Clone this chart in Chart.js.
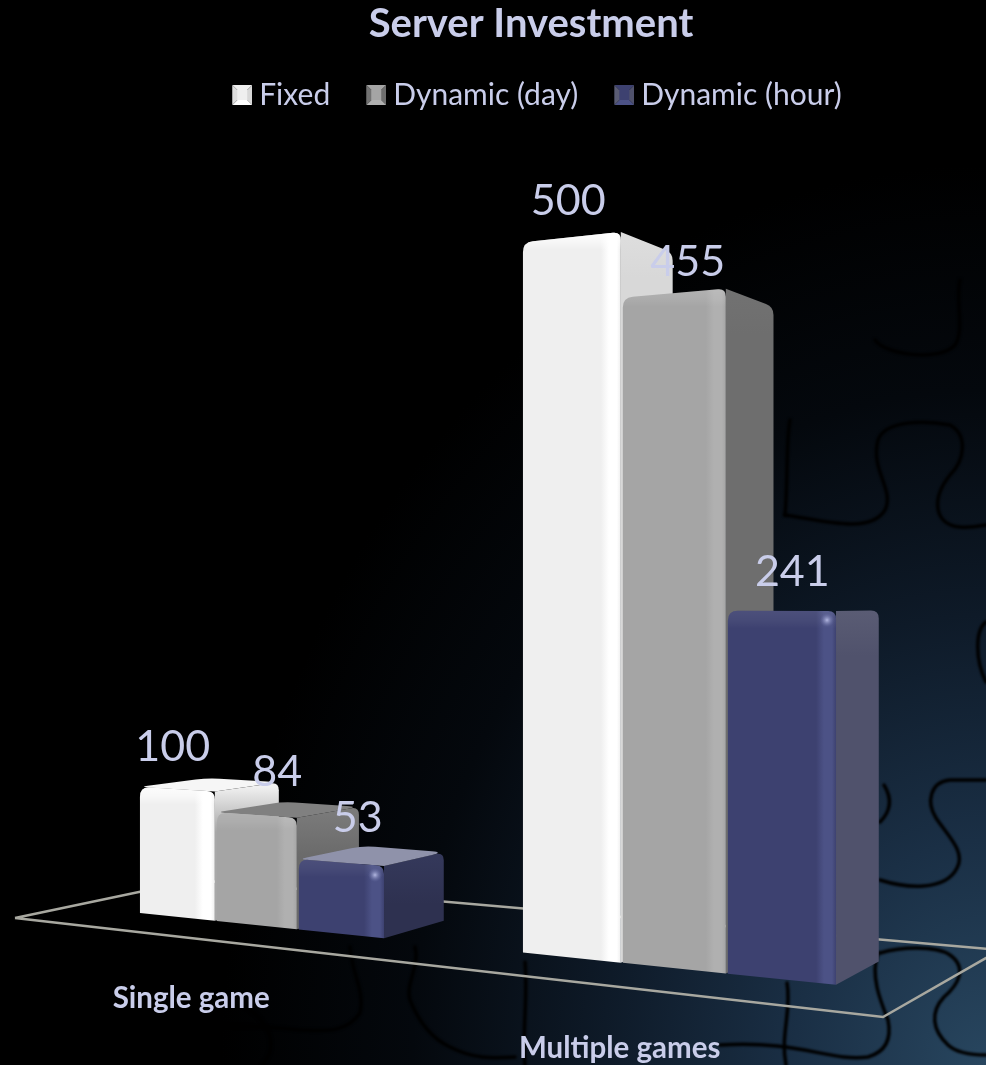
<!DOCTYPE html>
<html>
<head>
<meta charset="utf-8">
<title>Server Investment</title>
<style>
  html, body { margin: 0; padding: 0; background: #000; overflow: hidden; }
  canvas { display: block; }
</style>
<script src="https://cdn.jsdelivr.net/npm/chart.js@4"></script>
</head>
<body>
<canvas id="chart" width="986" height="1065"></canvas>
<script>
const categories = ['Single game', 'Multiple games'];
const seriesNames = ['Fixed', 'Dynamic (day)', 'Dynamic (hour)'];
const fixedValues = [100, 500];
const dayValues = [84, 455];
const hourValues = [53, 241];

const TEXT = '#c9cdea';
const FONT = 'Lato, "Open Sans", sans-serif';

// face colours: side is [top, lower] for the near and the far group
const faces = [
  { front: '#efefef', ridge: '#ffffff', side: [['#f0f0f0', '#a8a8a8'], ['#dedede', '#d8d8d8']], lid: '#f6f6f6', bevel: 0.85 },
  { front: '#a5a5a5', ridge: '#b0b0b0', side: [['#7a7a7a', '#6a6a6a'], ['#727272', '#6e6e6e']], lid: '#808080', bevel: 0.14 },
  { front: '#3d4170', ridge: '#4c5286', side: [['#34385a', '#2e3150'], ['#5a5c74', '#50526c']], lid: '#8f92aa', bevel: 0.08 },
];

// two point view of the floor: the library's pixels are bent onto it
const HORIZON = 600;
const VP_X = 1540;
const CENTER_X = 531;
const HEIGHT_K = 0.00403;
const screenX = (u) => { const t = u - CENTER_X; return 452.1 + t + 0.0002946 * t * t; };
const floorY = (x) => 913 + 0.103 * (x - 139);
const depthAt = (x) => 0.044 + 0.00002 * x;
const lift = (x, v) => { const f = floorY(x); return f - v * HEIGHT_K * (f - HORIZON); };
const back = (p, t) => [p[0] + (VP_X - p[0]) * t, p[1] + (HORIZON - p[1]) * t];

// floor outline, hidden parts are covered by the bars
const floorLine = [[15, 918], [883, 1017], [1000, 950], [196, 880], [15, 918]];

// value label offset from the middle of the bar top
const labelShift = [
  [[-4, -42], [-3, -36]],
  [[21, -43], [14, -31]],
  [[17, -44], [11, -39]],
];
const tickShift = [[-65, 73], [-54, 80]];

// puzzle pieces printed on the slide background
const puzzlePaths = [
  'M986 780 L950 780 C930 782 926 802 936 818 C948 836 966 852 957 868 C945 892 905 888 880 880',
  'M880 822 C892 810 892 798 884 785',
  'M880 953 C900 947 935 945 950 955 C968 968 958 985 944 997 C930 1012 932 1030 948 1045 C958 1054 975 1055 986 1055',
  'M878 953 C870 975 880 1000 888 1020 C892 1040 885 1052 868 1057 C830 1062 800 1040 720 1045',
  'M986 622 C975 630 975 660 986 682',
  'M787 983 C792 1010 780 1035 786 1065',
  'M785 515 C820 520 870 535 885 510 C895 490 870 470 878 440 C885 420 925 420 950 425 C968 435 965 460 950 475 C930 500 935 525 960 527 C970 528 980 526 986 525',
  'M785 515 C788 480 786 440 790 420',
  'M875 340 C885 355 940 362 955 345 C965 330 955 300 960 280',
  'M350 947 C352 975 365 990 360 1013 C345 1035 320 1030 300 1030 C250 1024 190 1026 160 1030 C150 1040 152 1050 150 1065',
  'M415 947 C420 965 405 985 410 1000 C420 1025 435 1040 450 1047 C475 1060 495 1058 515 1057',
  'M525 962 C528 1000 522 1030 525 1065',
  'M245 590 C290 575 325 620 300 665 C285 690 265 740 272 775',
  'M235 1000 C270 1020 280 1045 262 1065',
];

function roundedPoly(ctx, pts, radii) {
  const n = pts.length;
  ctx.beginPath();
  pts.forEach((p, i) => {
    const prev = pts[(i + n - 1) % n];
    const next = pts[(i + 1) % n];
    const a = Math.hypot(prev[0] - p[0], prev[1] - p[1]);
    const b = Math.hypot(next[0] - p[0], next[1] - p[1]);
    const r = Math.min(radii[i], a / 2, b / 2);
    const p1 = [p[0] + (prev[0] - p[0]) * r / a, p[1] + (prev[1] - p[1]) * r / a];
    const p2 = [p[0] + (next[0] - p[0]) * r / b, p[1] + (next[1] - p[1]) * r / b];
    if (i === 0) ctx.moveTo(p1[0], p1[1]);
    else ctx.lineTo(p1[0], p1[1]);
    ctx.quadraticCurveTo(p[0], p[1], p2[0], p2[1]);
  });
  ctx.closePath();
}

function drawBox(ctx, x0, x1, value, face, group, shiny) {
  const f0 = [x0, floorY(x0)];
  const f1 = [x1, floorY(x1)];
  const t0 = [x0, lift(x0, value)];
  const t1 = [x1, lift(x1, value)];
  const d = depthAt(x1);
  const bf = back(f1, d);
  const bt = back(t1, d);
  const bl = back(t0, d);
  const top = Math.min(t0[1], t1[1]);
  const w = x1 - x0;

  // side
  let g = ctx.createLinearGradient(0, top, 0, top + 45);
  g.addColorStop(0, face.side[group][0]);
  g.addColorStop(1, face.side[group][1]);
  ctx.fillStyle = g;
  roundedPoly(ctx, [t1, bt, bf, f1], [0, 8, 0, 0]);
  ctx.fill();

  // lid, only seen when the top is well under the horizon
  if (t1[1] > HORIZON + 40) {
    ctx.fillStyle = face.lid;
    roundedPoly(ctx, [t0, bl, bt, t1], [8, 12, 12, 0]);
    ctx.fill();
  }

  // front
  g = ctx.createLinearGradient(x0, 0, x1, 0);
  g.addColorStop(0, face.front);
  g.addColorStop(1 - 20 / w, face.front);
  g.addColorStop(1 - 12 / w, face.ridge);
  g.addColorStop(1 - 4 / w, face.ridge);
  g.addColorStop(1, face.front);
  ctx.fillStyle = g;
  roundedPoly(ctx, [t0, t1, f1, f0], [10, 8, 0, 0]);
  ctx.fill();

  // bevel along the top of the front face
  ctx.save();
  roundedPoly(ctx, [t0, t1, f1, f0], [10, 8, 0, 0]);
  ctx.clip();
  g = ctx.createLinearGradient(0, top, 0, top + 18);
  g.addColorStop(0, `rgba(255,255,255,${face.bevel})`);
  g.addColorStop(0.55, `rgba(255,255,255,${face.bevel * 0.6})`);
  g.addColorStop(1, 'rgba(255,255,255,0)');
  ctx.fillStyle = g;
  ctx.fillRect(x0, top, w, 18);
  ctx.restore();

  if (shiny) {
    const sx = x1 - 9;
    const sy = t1[1] + 9;
    g = ctx.createRadialGradient(sx, sy, 0, sx, sy, 7);
    g.addColorStop(0, 'rgba(190,195,235,0.9)');
    g.addColorStop(1, 'rgba(110,116,170,0)');
    ctx.fillStyle = g;
    ctx.fillRect(sx - 7, sy - 7, 14, 14);
  }
}

const view3d = {
  id: 'view3d',
  beforeDraw(chart) {
    const { ctx, width, height } = chart;
    // glow in the lower right corner, stretched up the right edge
    ctx.save();
    ctx.translate(width, height);
    ctx.scale(0.85, 1);
    const g = ctx.createRadialGradient(0, 0, 0, 0, 0, 900);
    g.addColorStop(0, '#28465f');
    g.addColorStop(0.25, '#1a2f45');
    g.addColorStop(0.5, '#0e1a28');
    g.addColorStop(0.75, '#04080d');
    g.addColorStop(1, '#000000');
    ctx.fillStyle = g;
    ctx.fillRect(-width / 0.85, -height, width / 0.85, height);
    ctx.restore();

    ctx.save();
    ctx.strokeStyle = '#000000';
    ctx.lineWidth = 3.5;
    ctx.lineCap = 'round';
    ctx.filter = 'blur(1px)';
    puzzlePaths.forEach((d) => ctx.stroke(new Path2D(d)));
    ctx.restore();
  },
  afterLayout(chart) {
    chart.legend.left += 6;
    chart.legend.right += 6;
  },
  beforeDatasetsDraw(chart) {
    const { ctx } = chart;
    const yScale = chart.scales.y;

    ctx.save();
    ctx.strokeStyle = '#a8a8a0';
    ctx.lineWidth = 2.5;
    ctx.beginPath();
    floorLine.forEach((p, i) => (i ? ctx.lineTo(p[0], p[1]) : ctx.moveTo(p[0], p[1])));
    ctx.stroke();

    categories.forEach((name, c) => {
      chart.data.datasets.forEach((ds, s) => {
        const bar = chart.getDatasetMeta(s).data[c];
        const x0 = screenX(bar.x - bar.width / 2);
        const x1 = screenX(bar.x + bar.width / 2);
        drawBox(ctx, x0 + 1, x1 - 1, yScale.getValueForPixel(bar.y), faces[s], c, s === 2);
      });
    });
    ctx.restore();
  },
  beforeDatasetDraw() {
    return false;
  },
  afterDatasetsDraw(chart) {
    const { ctx } = chart;
    const yScale = chart.scales.y;
    const xScale = chart.scales.x;
    ctx.save();
    ctx.fillStyle = TEXT;
    ctx.textAlign = 'center';
    ctx.textBaseline = 'middle';

    ctx.font = '43px ' + FONT;
    chart.data.datasets.forEach((ds, s) => {
      ds.data.forEach((v, c) => {
        const bar = chart.getDatasetMeta(s).data[c];
        const x = screenX(bar.x);
        const y = lift(x, yScale.getValueForPixel(bar.y));
        ctx.fillText(String(v), x + labelShift[s][c][0], y + labelShift[s][c][1]);
      });
    });

    ctx.font = 'bold 29.5px ' + FONT;
    categories.forEach((name, c) => {
      const x = screenX(xScale.getPixelForTick(c));
      ctx.fillText(name, x + tickShift[c][0], floorY(x) + tickShift[c][1]);
    });
    ctx.restore();
  },
};

// small bevelled legend square; blank strip on the left keeps the text close to it
function swatch(face) {
  const c = document.createElement('canvas');
  c.width = 28;
  c.height = 20;
  const x = c.getContext('2d');
  const tri = (color, a, b) => {
    x.fillStyle = color;
    x.beginPath();
    x.moveTo(a[0], a[1]);
    x.lineTo(b[0], b[1]);
    x.lineTo(18, 10);
    x.fill();
  };
  tri(face.front, [8, 0], [28, 0]);
  tri(face.side[1][1], [28, 0], [28, 20]);
  tri(face.ridge, [8, 20], [28, 20]);
  tri(face.side[1][0], [8, 0], [8, 20]);
  x.fillStyle = face.front;
  x.fillRect(13, 5, 10, 10);
  return c;
}

new Chart(document.getElementById('chart'), {
  type: 'bar',
  plugins: [view3d],
  data: {
    labels: categories,
    datasets: [
      { label: seriesNames[0], data: fixedValues, backgroundColor: faces[0].front },
      { label: seriesNames[1], data: dayValues, backgroundColor: faces[1].front },
      { label: seriesNames[2], data: hourValues, backgroundColor: faces[2].front },
    ],
  },
  options: {
    responsive: false,
    animation: false,
    layout: { padding: { left: 113.5, right: 37.5, top: 0, bottom: 40 } },
    datasets: { bar: { categoryPercentage: 0.672, barPercentage: 1 } },
    scales: {
      x: { display: false },
      y: { display: false, min: 0, max: 600 },
    },
    plugins: {
      title: {
        display: true,
        text: 'Server Investment',
        color: TEXT,
        font: { family: FONT, size: 40, weight: 'bold', lineHeight: 1 },
        padding: { top: 4, bottom: 0 },
      },
      legend: {
        position: 'top',
        labels: {
          color: TEXT,
          font: { family: FONT, size: 30 },
          usePointStyle: true,
          pointStyleWidth: 12,
          boxHeight: 20,
          padding: 36,
          generateLabels(chart) {
            return chart.data.datasets.map((ds, i) => ({
              text: ds.label,
              fontColor: TEXT,
              pointStyle: swatch(faces[i]),
              lineWidth: 0,
              datasetIndex: i,
            }));
          },
        },
      },
      tooltip: { enabled: false },
    },
  },
});
</script>
</body>
</html>
